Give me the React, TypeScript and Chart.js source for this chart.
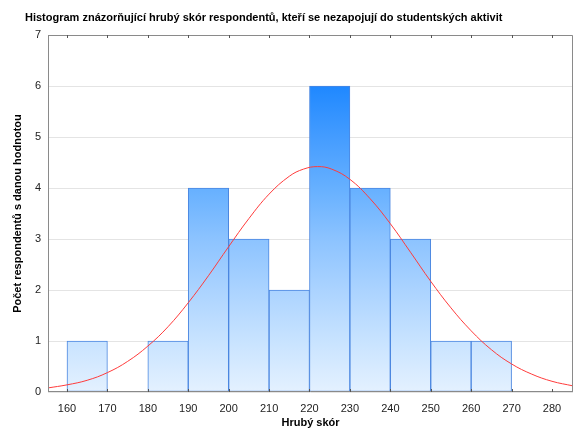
import React, { useEffect, useRef } from "react";
import { Chart, registerables } from "chart.js";

Chart.register(...registerables);

const TITLE = "Histogram znázorňující hrubý skór respondentů, kteří se nezapojují do studentských aktivit";
const X_TITLE = "Hrubý skór";
const Y_TITLE = "Počet respondentů s danou hodnotou";

const binStarts = [160, 170, 180, 190, 200, 210, 220, 230, 240, 250, 260];
const counts = [1, 0, 1, 4, 3, 2, 6, 4, 3, 1, 1];
const binWidth = 10;

const xTicks = [160, 170, 180, 190, 200, 210, 220, 230, 240, 250, 260, 270, 280];
const yTicks = [0, 1, 2, 3, 4, 5, 6, 7];

// fitted normal curve
const curveX = [155.3, 160, 165, 170, 175, 180, 185, 190, 195, 200, 205, 210, 215, 218.5, 222, 225.5, 230, 235, 240, 245, 250, 255, 260, 265, 270, 275, 280, 285.2];
const curveY = [0.08, 0.14, 0.23, 0.38, 0.6, 0.9, 1.28, 1.75, 2.28, 2.85, 3.4, 3.88, 4.23, 4.37, 4.42, 4.37, 4.17, 3.79, 3.3, 2.74, 2.17, 1.65, 1.2, 0.83, 0.55, 0.35, 0.21, 0.12];

const X_MIN = 155.3;
const X_MAX = 285.2;
const FONT = "'Liberation Sans', Arial, sans-serif";

export default function App() {
  const ref = useRef<HTMLCanvasElement>(null);

  useEffect(() => {
    document.body.style.margin = "0";
    const canvas = ref.current!;
    const frame = {
      id: "frame",
      afterDatasetsDraw(chart: any) {
        const { ctx, chartArea } = chart;
        const { left, right, top, bottom } = chartArea;
        ctx.save();
        ctx.strokeStyle = "#8a8a8a";
        ctx.lineWidth = 1;
        ctx.beginPath();
        ctx.moveTo(left + 0.5, top + 0.5);
        ctx.lineTo(right - 0.5, top + 0.5);
        ctx.lineTo(right - 0.5, bottom);
        ctx.moveTo(left + 0.5, top);
        ctx.lineTo(left + 0.5, bottom);
        ctx.moveTo(left, bottom - 0.5);
        ctx.lineTo(right, bottom - 0.5);
        ctx.stroke();
        const xs = chart.scales.x;
        ctx.strokeStyle = "#555";
        ctx.beginPath();
        for (const v of xTicks) {
          const px = Math.round(xs.getPixelForValue(v)) + 0.5;
          ctx.moveTo(px, top);
          ctx.lineTo(px, top + 3);
          ctx.moveTo(px, bottom);
          ctx.lineTo(px, bottom - 3);
        }
        ctx.stroke();
        ctx.restore();
      },
      afterDraw(chart: any) {
        const { ctx } = chart;
        ctx.save();
        ctx.fillStyle = "#000";
        ctx.font = `bold 11px ${FONT}`;
        ctx.textAlign = "left";
        ctx.textBaseline = "middle";
        ctx.fillText(TITLE, 25, 17.5);
        ctx.restore();
      },
    };

    const chart = new Chart(canvas, {
      type: "bar",
      data: {
        datasets: [
          {
            type: "line",
            data: curveX.map((x, i) => ({ x, y: curveY[i] })),
            borderColor: "#ff3b3b",
            borderWidth: 1,
            pointRadius: 0,
            tension: 0.4,
            fill: false,
            order: 0,
          } as any,
          {
            type: "bar",
            data: binStarts.map((s, i) => ({ x: s + binWidth / 2, y: counts[i] })),
            barPercentage: 1,
            categoryPercentage: 1,
            borderWidth: 1,
            borderColor: "#4a86e0",
            borderSkipped: false,
            order: 1,
            backgroundColor: (ctx: any) => {
              const c = ctx.chart;
              const area = c.chartArea;
              if (!area) return "#8cc4ff";
              const ys = c.scales.y;
              const g = c.ctx.createLinearGradient(0, ys.getPixelForValue(0), 0, ys.getPixelForValue(7));
              g.addColorStop(0, "#e4f1ff");
              g.addColorStop(1 / 7, "#c8e3ff");
              g.addColorStop(2 / 7, "#abd3ff");
              g.addColorStop(3 / 7, "#8cc3ff");
              g.addColorStop(4 / 7, "#66b0ff");
              g.addColorStop(5 / 7, "#449cff");
              g.addColorStop(6 / 7, "#1f88ff");
              g.addColorStop(1, "#0f7cff");
              return g;
            },
          } as any,
        ],
      },
      options: {
        animation: false,
        responsive: false,
        maintainAspectRatio: false,
        layout: { padding: { left: 0, right: 7, top: 35, bottom: 0 } },
        plugins: {
          legend: { display: false },
          tooltip: { enabled: false },
          title: { display: false },
        },
        scales: {
          x: {
            type: "linear",
            min: X_MIN,
            max: X_MAX,
            offset: false,
            grid: { display: false, offset: false },
            border: { display: false },
            afterBuildTicks: (s: any) => {
              s.ticks = xTicks.map((v) => ({ value: v }));
            },
            afterFit: (s: any) => {
              s.height = 43;
            },
            ticks: {
              color: "#222",
              font: { family: FONT, size: 11 },
              padding: 2,
              maxRotation: 0,
              autoSkip: false,
            },
            title: {
              display: true,
              text: X_TITLE,
              color: "#000",
              font: { family: FONT, size: 11, weight: "bold" },
              padding: { top: 0, bottom: 5 },
            },
          },
          y: {
            min: 0,
            max: 7,
            grid: { color: "#e4e4e4", drawTicks: false },
            border: { display: false },
            afterBuildTicks: (s: any) => {
              s.ticks = yTicks.map((v) => ({ value: v }));
            },
            afterFit: (s: any) => {
              s.width = 48;
            },
            ticks: {
              color: "#222",
              font: { family: FONT, size: 11 },
              padding: 7,
            },
            title: {
              display: true,
              text: Y_TITLE,
              color: "#000",
              font: { family: FONT, size: 11, weight: "bold" },
              padding: { top: 11, bottom: 0 },
            },
          },
        },
      } as any,
      plugins: [frame],
    });
    return () => chart.destroy();
  }, []);

  return (
    <div style={{ width: 580, height: 435 }}>
      <canvas ref={ref} width={580} height={435} style={{ width: 580, height: 435, display: "block" }} />
    </div>
  );
}
